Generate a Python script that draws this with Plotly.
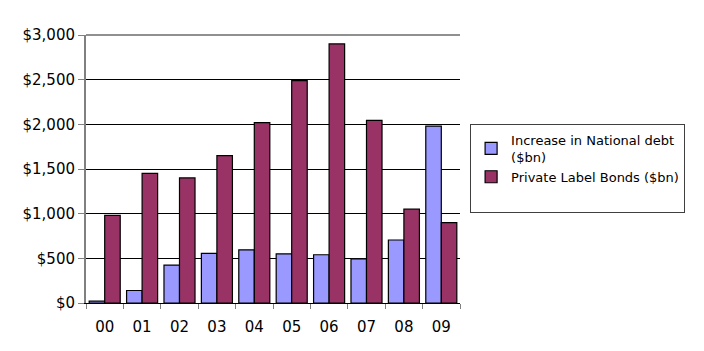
import plotly.graph_objects as go

categories = ["00", "01", "02", "03", "04", "05", "06", "07", "08", "09"]
national_debt = [20, 140, 425, 555, 595, 550, 540, 495, 705, 1980]
private_label = [980, 1450, 1400, 1650, 2020, 2490, 2900, 2045, 1050, 900]
tick_vals = [0, 500, 1000, 1500, 2000, 2500, 3000]
tick_text = ["$0", "$500", "$1,000", "$1,500", "$2,000", "$2,500", "$3,000"]

fig = go.Figure()
fig.add_trace(go.Bar(x=categories, y=national_debt, name="Increase in National debt<br>($bn)",
                     marker=dict(color="#9999FF", line=dict(color="#000000", width=1.2))))
fig.add_trace(go.Bar(x=categories, y=private_label, name="Private Label Bonds ($bn)",
                     marker=dict(color="#993366", line=dict(color="#000000", width=1.2))))
# legend spacer (draws nothing) to reproduce the taller legend box
fig.add_trace(go.Scatter(x=[None], y=[None], mode="markers", name=" ", visible="legendonly",
                         showlegend=True,
                         marker=dict(color="rgba(0,0,0,0)", size=1), hoverinfo="skip"))

fig.update_layout(
    width=704, height=351,
    margin=dict(l=86, r=244, t=35, b=48),
    paper_bgcolor="white", plot_bgcolor="white",
    barmode="group", bargap=0.17, bargroupgap=0,
    font=dict(family="DejaVu Sans, Verdana", size=15, color="#000000"),
    legend=dict(x=1.027, y=0.668, xanchor="left", yanchor="top",
                bordercolor="#404040", borderwidth=1, bgcolor="white",
                font=dict(family="Comic Sans MS, DejaVu Sans", size=13),
                tracegroupgap=3, itemwidth=30),
    showlegend=True,
)
fig.update_xaxes(
    type="category", showline=True, linecolor="#000000", linewidth=1,
    ticks="outside", tickson="boundaries", ticklen=5, tickcolor="#808080",
    showgrid=False, tickfont=dict(size=15), ticklabelstandoff=10,
)
fig.update_yaxes(
    range=[0, 3000], tickvals=tick_vals, ticktext=tick_text,
    showgrid=True, gridcolor="#000000", gridwidth=1,
    showline=True, linecolor="#808080", linewidth=2,
    ticks="outside", ticklen=6, tickcolor="#808080",
    zeroline=False, tickfont=dict(size=15),
)
fig.add_shape(type="line", xref="paper", yref="paper", x0=0, x1=1, y0=1, y1=1,
              line=dict(color="#909090", width=2))

fig.write_html("out.html")
